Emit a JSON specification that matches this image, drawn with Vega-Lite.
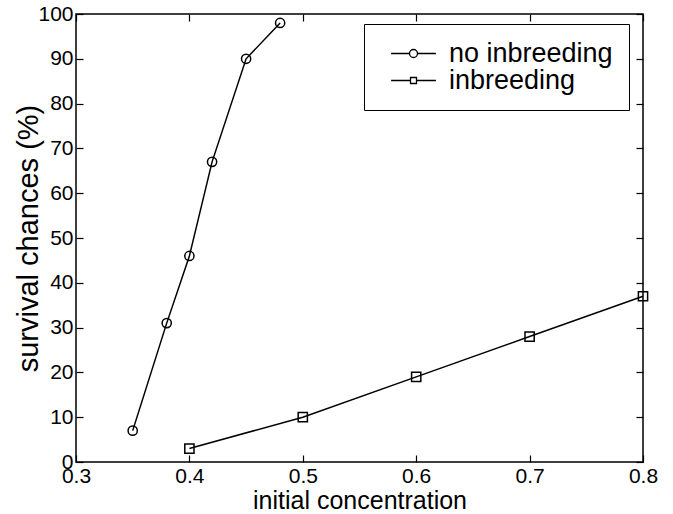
{
  "$schema": "https://vega.github.io/schema/vega-lite/v6.json",
  "width": 567,
  "height": 448,
  "autosize": "none",
  "padding": {"left": 76, "top": 14, "right": 30, "bottom": 52},
  "background": "white",
  "config": {
    "font": "Liberation Sans",
    "view": {"stroke": "black", "strokeWidth": 1.5},
    "axis": {
      "domain": false,
      "grid": false,
      "tickColor": "black",
      "tickWidth": 1.2,
      "tickSize": -7,
      "labelColor": "black",
      "labelFontSize": 21,
      "labelFont": "Liberation Sans",
      "titleColor": "black",
      "titleFont": "Liberation Sans",
      "titleFontWeight": "normal"
    }
  },
  "datasets": {
    "d": [
      {"conc": 0.35, "survival": 7, "series": "no inbreeding"},
      {"conc": 0.38, "survival": 31, "series": "no inbreeding"},
      {"conc": 0.40, "survival": 46, "series": "no inbreeding"},
      {"conc": 0.42, "survival": 67, "series": "no inbreeding"},
      {"conc": 0.45, "survival": 90, "series": "no inbreeding"},
      {"conc": 0.48, "survival": 98, "series": "no inbreeding"},
      {"conc": 0.4, "survival": 3, "series": "inbreeding"},
      {"conc": 0.5, "survival": 10, "series": "inbreeding"},
      {"conc": 0.6, "survival": 19, "series": "inbreeding"},
      {"conc": 0.7, "survival": 28, "series": "inbreeding"},
      {"conc": 0.8, "survival": 37, "series": "inbreeding"}
    ]
  },
  "data": {"name": "d"},
  "layer": [
    {
      "mark": {"type": "line", "color": "black", "strokeWidth": 1.5},
      "encoding": {
        "x": {"field": "conc", "type": "quantitative", "scale": {"domain": [0.3, 0.8], "nice": false, "zero": false},
              "axis": {"orient": "bottom", "values": [0.3, 0.4, 0.5, 0.6, 0.7, 0.8], "format": ".1f", "title": "initial concentration", "titleFontSize": 25, "labelPadding": 10, "titlePadding": 2, "labelFlush": false}},
        "y": {"field": "survival", "type": "quantitative", "scale": {"domain": [0, 100], "nice": false},
              "axis": {"orient": "left", "values": [0,10,20,30,40,50,60,70,80,90,100], "title": "survival chances (%)", "titleFontSize": 29, "labelPadding": 10, "titlePadding": -6}},
        "detail": {"field": "series"}
      }
    },
    {
      "mark": {"type": "point", "filled": false, "color": "black", "strokeWidth": 1.5, "size": 85, "opacity": 1},
      "encoding": {
        "x": {"field": "conc", "type": "quantitative", "axis": null},
        "y": {"field": "survival", "type": "quantitative", "axis": null},
        "shape": {"field": "series", "type": "nominal", "scale": {"domain": ["no inbreeding", "inbreeding"], "range": ["circle", "square"]}, "legend": null}
      }
    },
    {
      "mark": {"type": "point", "filled": false, "color": "black", "opacity": 0, "size": 64},
      "encoding": {
        "x": {"field": "conc", "type": "quantitative", "axis": null},
        "y": {"field": "survival", "type": "quantitative", "axis": null},
        "shape": {
          "field": "series", "type": "nominal",
          "scale": {"domain": ["no inbreeding", "inbreeding"], "range": ["M-5.6,0L-1,0M1,0L5.6,0M1,0A1,1 0 1,1 -1,0A1,1 0 1,1 1,0", "M-5.6,0L-0.75,0M0.75,0L5.6,0M-0.75,-0.75L0.75,-0.75L0.75,0.75L-0.75,0.75Z"]},
          "legend": {
            "title": null, "orient": "none", "legendX": 288, "legendY": 10,
            "strokeColor": "black", "fillColor": "white", "padding": 16,
            "labelFontSize": 27, "labelFont": "Liberation Sans", "labelColor": "black", "labelLimit": 500,
            "symbolSize": 64, "symbolStrokeWidth": 1.3, "symbolStrokeColor": "black",
            "symbolFillColor": "transparent", "symbolOpacity": 1,
            "symbolOffset": 20, "labelOffset": 22, "rowPadding": -10
          }
        }
      }
    },
    {
      "mark": {"type": "point", "opacity": 0},
      "encoding": {
        "x": {"field": "conc", "type": "quantitative", "axis": {"orient": "top", "values": [0.3, 0.4, 0.5, 0.6, 0.7, 0.8], "labels": false, "title": null}},
        "y": {"field": "survival", "type": "quantitative", "axis": {"orient": "right", "values": [0,10,20,30,40,50,60,70,80,90,100], "labels": false, "title": null}}
      }
    }
  ],
  "resolve": {"scale": {"shape": "independent"}, "axis": {"x": "independent", "y": "independent"}}
}
